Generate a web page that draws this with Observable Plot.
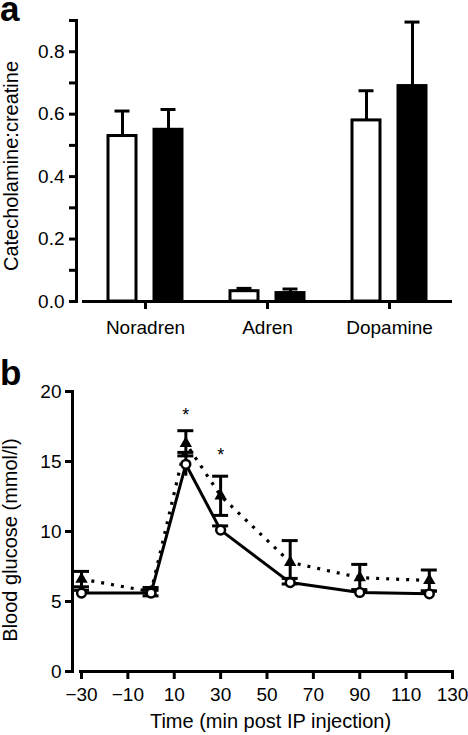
<!DOCTYPE html>
<html>
<head>
<meta charset="utf-8">
<script src="https://cdn.jsdelivr.net/npm/d3@7"></script>
<script src="https://cdn.jsdelivr.net/npm/@observablehq/plot@0.6"></script>
<style>
  html, body { margin: 0; padding: 0; background: white; }
  #wrap { position: relative; width: 468px; height: 735px; overflow: hidden; font-family: "Liberation Sans", Arial, sans-serif; }
  .letter { position: absolute; left: 0; font-weight: bold; font-size: 35px; line-height: 14px; color: black; }
  #panelA, #panelB { position: absolute; left: 0; }
  #panelA { top: 0; }
  #panelB { top: 370px; }
</style>
</head>
<body>
<div id="wrap">
  <div id="panelA"></div>
  <div id="panelB"></div>
  <div class="letter" style="top:2px">a</div>
  <div class="letter" style="top:366px">b</div>
</div>
<script>
// ---------- Panel a data ----------
const categories = ["Noradren", "Adren", "Dopamine"];
const ctrlRatio = [0.53, 0.033, 0.58];
const ctrlRatioHi = [0.61, 0.042, 0.675];
const treatRatio = [0.55, 0.027, 0.69];
const treatRatioHi = [0.615, 0.040, 0.895];
const yTicksA = [0, 0.1, 0.2, 0.3, 0.4, 0.5, 0.6, 0.7, 0.8, 0.9];

// ---------- Panel b data ----------
const times = [-30, 0, 15, 30, 60, 90, 120];
const ctrlGlucose = [5.6, 5.6, 14.8, 10.1, 6.35, 5.65, 5.55];
const ctrlSE = [0.2, 0.2, 0.85, 0.3, 0.3, 0.2, 0.2];
const treatGlucose = [6.6, 5.7, 16.3, 12.55, 7.8, 6.7, 6.5];
const treatSE = [0.55, 0.3, 0.9, 1.4, 1.55, 0.95, 0.75];
const starTimes = [15, 30];
const starLevels = [18.3, 15.45];
const xTicksB = [-30, -10, 10, 30, 50, 70, 90, 110, 130];
const yTicksB = [0, 5, 10, 15, 20];

const font = "Liberation Sans, Arial, sans-serif";

// ---------- Panel a ----------
const ctrlRows = categories.map((c, i) => ({cat: c, value: ctrlRatio[i], hi: ctrlRatioHi[i]}));
const treatRows = categories.map((c, i) => ({cat: c, value: treatRatio[i], hi: treatRatioHi[i]}));

const barInset = 47, capInset = 53.5, off = 23;

const plotA = Plot.plot({
  width: 468, height: 340,
  marginTop: 20, marginBottom: 39, marginLeft: 76, marginRight: 18,
  style: {fontFamily: font, fontSize: "19px", background: "white", color: "black", overflow: "visible"},
  x: {domain: categories, padding: 0, insetLeft: 7},
  y: {domain: [0, 0.9]},
  marks: [
    Plot.ruleX(ctrlRows, {x: "cat", y1: "value", y2: "hi", dx: -off, stroke: "black", strokeWidth: 3}),
    Plot.tickY(ctrlRows, {x: "cat", y: "hi", dx: -off, insetLeft: capInset, insetRight: capInset, stroke: "black", strokeWidth: 3}),
    Plot.ruleX(treatRows, {x: "cat", y1: "value", y2: "hi", dx: off, stroke: "black", strokeWidth: 3}),
    Plot.tickY(treatRows, {x: "cat", y: "hi", dx: off, insetLeft: capInset, insetRight: capInset, stroke: "black", strokeWidth: 3}),
    Plot.barY(ctrlRows, {x: "cat", y: "value", dx: -off, insetLeft: barInset, insetRight: barInset, fill: "white", stroke: "black", strokeWidth: 3}),
    Plot.barY(treatRows, {x: "cat", y: "value", dx: off, insetLeft: barInset, insetRight: barInset, fill: "black", stroke: "black", strokeWidth: 3}),
    Plot.frame({anchor: "left", stroke: "black", strokeWidth: 3}),
    Plot.frame({anchor: "bottom", insetLeft: 7, stroke: "black", strokeWidth: 3}),
    Plot.axisX({tickSize: 8, tickPadding: 11, fontSize: 19, strokeWidth: 3, label: null}),
    Plot.axisY({ticks: yTicksA, tickSize: 7, tickPadding: 5, fontSize: 19, strokeWidth: 3, label: null,
      tickFormat: d => (Math.round(d * 10) % 2 === 0 ? d.toFixed(1) : "")}),
    Plot.text(["Catecholamine:creatine"], {frameAnchor: "left", rotate: -90, dx: -65, dy: 5, fontSize: 20, lineAnchor: "middle", textAnchor: "middle"})
  ]
});
document.getElementById("panelA").appendChild(plotA);

// ---------- Panel b ----------
const rowsB = times.map((t, i) => ({
  t,
  ctrl: ctrlGlucose[i], ctrlLo: ctrlGlucose[i] - ctrlSE[i], ctrlHi: ctrlGlucose[i] + ctrlSE[i],
  treat: treatGlucose[i], treatLo: treatGlucose[i] - treatSE[i], treatHi: treatGlucose[i] + treatSE[i]
}));
const stars = starTimes.map((t, i) => ({t, y: starLevels[i]}));
const minusFmt = d => (d < 0 ? "\u2212" + Math.abs(d) : String(d));

const plotB = Plot.plot({
  width: 468, height: 365,
  marginTop: 21, marginBottom: 64, marginLeft: 72, marginRight: 16,
  style: {fontFamily: font, fontSize: "19px", background: "white", color: "black", overflow: "visible"},
  x: {domain: [-30, 130], insetLeft: 9},
  y: {domain: [0, 20]},
  marks: [
    Plot.line(rowsB, {x: "t", y: "treat", stroke: "black", strokeWidth: 3.2, strokeDasharray: "3,7", strokeLinecap: "butt"}),
    Plot.line(rowsB, {x: "t", y: "ctrl", stroke: "black", strokeWidth: 3}),
    Plot.ruleX(rowsB, {x: "t", y1: "treatLo", y2: "treatHi", stroke: "black", strokeWidth: 3}),
    Plot.ruleY(rowsB, {x1: "t", x2: "t", y: "treatHi", insetLeft: -8, insetRight: -8, stroke: "black", strokeWidth: 3}),
    Plot.ruleY(rowsB, {x1: "t", x2: "t", y: "treatLo", insetLeft: -8, insetRight: -8, stroke: "black", strokeWidth: 3}),
    Plot.ruleX(rowsB, {x: "t", y1: "ctrlLo", y2: "ctrlHi", stroke: "black", strokeWidth: 3}),
    Plot.ruleY(rowsB, {x1: "t", x2: "t", y: "ctrlHi", insetLeft: -8, insetRight: -8, stroke: "black", strokeWidth: 3}),
    Plot.dot(rowsB, {x: "t", y: "treat", symbol: "triangle", r: 4.6, fill: "black"}),
    Plot.dot(rowsB, {x: "t", y: "ctrl", symbol: "circle", r: 4.4, fill: "white", stroke: "black", strokeWidth: 2.5}),
    Plot.text(stars, {x: "t", y: "y", text: () => "*", fontSize: 18, fill: "black"}),
    Plot.frame({anchor: "left", stroke: "black", strokeWidth: 3}),
    Plot.frame({anchor: "bottom", insetLeft: 8, stroke: "black", strokeWidth: 3}),
    Plot.axisX({ticks: xTicksB, tickFormat: minusFmt, tickSize: 8, tickPadding: 8, fontSize: 19, strokeWidth: 3, label: null}),
    Plot.axisY({ticks: yTicksB, tickSize: 7, tickPadding: 4, fontSize: 19, strokeWidth: 3, label: null}),
    Plot.text(["Blood glucose (mmol/l)"], {frameAnchor: "left", rotate: -90, dx: -61.5, dy: 8.5, fontSize: 20, lineAnchor: "middle", textAnchor: "middle"}),
    Plot.text(["Time (min post IP injection)"], {frameAnchor: "bottom", dx: 8, dy: 49.6, fontSize: 20, lineAnchor: "middle", textAnchor: "middle"})
  ]
});
document.getElementById("panelB").appendChild(plotB);
</script>
</body>
</html>
